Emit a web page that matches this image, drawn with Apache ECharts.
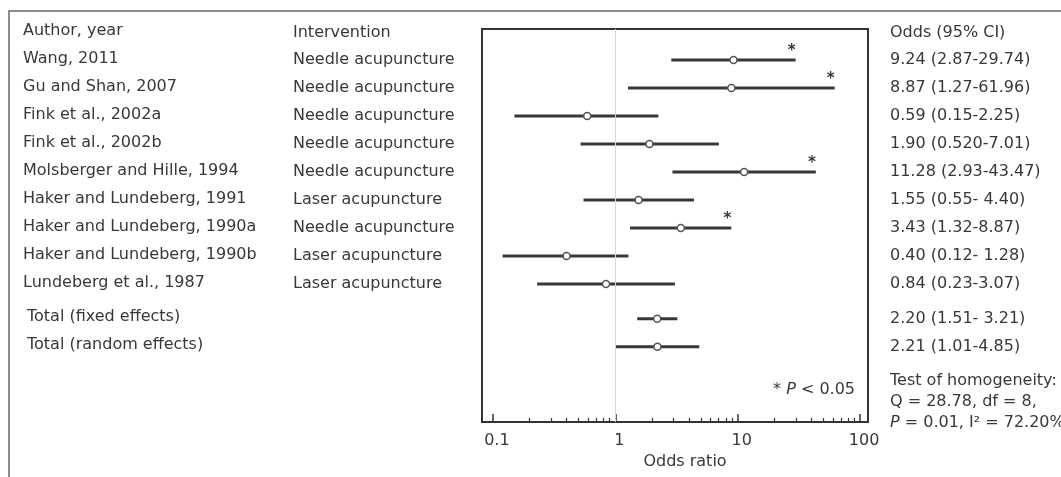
<!DOCTYPE html>
<html>
<head>
<meta charset="utf-8">
<script src="https://cdn.jsdelivr.net/npm/echarts@6/dist/echarts.min.js"></script>
<style>
  html, body { margin: 0; background: #fff; }
  #chart { width: 1061px; height: 477px; }
</style>
</head>
<body>
<div id="chart"></div>
<script>
// forest plot: acupuncture trials, odds ratio on a log axis
const authors = [
  "Wang, 2011", "Gu and Shan, 2007", "Fink et al., 2002a", "Fink et al., 2002b",
  "Molsberger and Hille, 1994", "Haker and Lundeberg, 1991", "Haker and Lundeberg, 1990a",
  "Haker and Lundeberg, 1990b", "Lundeberg et al., 1987"
];
const interventions = [
  "Needle acupuncture", "Needle acupuncture", "Needle acupuncture", "Needle acupuncture",
  "Needle acupuncture", "Laser acupuncture", "Needle acupuncture",
  "Laser acupuncture", "Laser acupuncture"
];
const oddsRatio = [9.24, 8.87, 0.59, 1.90, 11.28, 1.55, 3.43, 0.40, 0.84];
const ciLow = [2.87, 1.27, 0.15, 0.520, 2.93, 0.55, 1.32, 0.12, 0.23];
const ciHigh = [29.74, 61.96, 2.25, 7.01, 43.47, 4.40, 8.87, 1.28, 3.07];
const significant = [true, true, false, false, true, false, true, false, false];
const oddsText = [
  "9.24 (2.87-29.74)", "8.87 (1.27-61.96)", "0.59 (0.15-2.25)", "1.90 (0.520-7.01)",
  "11.28 (2.93-43.47)", "1.55 (0.55- 4.40)", "3.43 (1.32-8.87)", "0.40 (0.12- 1.28)",
  "0.84 (0.23-3.07)"
];

const totalLabels = ["Total (fixed effects)", "Total (random effects)"];
const totalOR = [2.20, 2.21];
const totalLow = [1.51, 1.01];
const totalHigh = [3.21, 4.85];
const totalText = ["2.20 (1.51- 3.21)", "2.21 (1.01-4.85)"];

const xMajorTicks = [0.1, 1, 10, 100];
const xMinorTicks = [
  0.2, 0.3, 0.4, 0.5, 0.6, 0.7, 0.8, 0.9,
  2, 3, 4, 5, 6, 7, 8, 9,
  20, 30, 40, 50, 60, 70, 80, 90
];

// row layout on the y value axis (inverse): studies 0..8, totals after a small gap
const headerRow = -0.97;
const studyRows = authors.map((_, i) => i);
const totalRows = [9.24, 10.24];
const labelRows = [headerRow, ...studyRows, ...totalRows];

const INK = "#383838";
const FONT = "DejaVu Sans";

function rowText(v, header, studies, totals) {
  if (Math.abs(v - headerRow) < 0.01) return header;
  const t = totalRows.findIndex((r) => Math.abs(r - v) < 0.01);
  if (t >= 0) return totals ? totals[t] : "";
  const i = Math.round(v);
  return studies[i] != null ? studies[i] : "";
}

const intervalData = [
  ...authors.map((_, i) => [ciLow[i], ciHigh[i], oddsRatio[i], studyRows[i], significant[i] ? 1 : 0]),
  ...totalLabels.map((_, j) => [totalLow[j], totalHigh[j], totalOR[j], totalRows[j], 0])
];

function renderInterval(params, api) {
  const y = api.value(3);
  const lo = api.coord([api.value(0), y]);
  const hi = api.coord([api.value(1), y]);
  const mid = api.coord([api.value(2), y]);
  const children = [
    { type: "line", shape: { x1: lo[0], y1: lo[1], x2: hi[0], y2: hi[1] },
      style: { stroke: INK, lineWidth: 3 } },
    { type: "circle", shape: { cx: mid[0], cy: mid[1], r: 3.5 },
      style: { fill: "#fff", stroke: "#555", lineWidth: 1.5 } }
  ];
  if (api.value(4)) {
    children.push({
      type: "text", x: hi[0] - 4, y: hi[1] - 9,
      style: { text: "*", fontFamily: FONT, fontSize: 15, fontWeight: "bold", fill: INK,
               align: "center", verticalAlign: "middle" }
    });
  }
  return { type: "group", children };
}

const yBase = {
  type: "value", inverse: true, min: -1.107, max: 12.93, gridIndex: 0,
  axisLine: { show: false }, axisTick: { show: false }, splitLine: { show: false }
};
const labelStyle = { fontFamily: FONT, fontSize: 16, color: INK, padding: [0, 0, 3, 0] };

const chart = echarts.init(document.getElementById("chart"));
chart.setOption({
  animation: false,
  backgroundColor: "#fff",
  grid: {
    left: 482, top: 29, right: 193, bottom: 55,
    show: true, borderColor: "#333", borderWidth: 2, backgroundColor: "transparent"
  },
  xAxis: [
    {
      type: "log", logBase: 10, min: 0.0815, max: 116, gridIndex: 0, position: "bottom",
      axisLine: { show: true, onZero: false, lineStyle: { color: "#333", width: 2 } },
      axisTick: { show: true, inside: true, length: 8, customValues: xMajorTicks,
                  lineStyle: { color: "#333", width: 1.5 } },
      axisLabel: { customValues: xMajorTicks, margin: 11, fontFamily: FONT, fontSize: 16,
                   color: INK, padding: [0, 0, 0, 8], formatter: (v) => String(v) },
      splitLine: { show: false },
      name: "Odds ratio", nameLocation: "middle", nameGap: 31,
      nameTextStyle: { fontFamily: FONT, fontSize: 16, color: INK, padding: [0, 0, 0, 20] }
    },
    {
      type: "log", logBase: 10, min: 0.0815, max: 116, gridIndex: 0, position: "bottom",
      axisLine: { show: false, onZero: false },
      axisTick: { show: true, inside: true, length: 4, customValues: xMinorTicks,
                  lineStyle: { color: "#333", width: 1.2 } },
      axisLabel: { show: false },
      splitLine: { show: false }
    }
  ],
  yAxis: [
    Object.assign({}, yBase, {
      position: "left",
      axisLabel: Object.assign({}, labelStyle, {
        customValues: labelRows, align: "left", margin: 459,
        formatter: (v) => {
          const s = rowText(v, "Author, year", authors, totalLabels);
          return totalRows.some((r) => Math.abs(r - v) < 0.01) ? "{t|" + s + "}" : s;
        },
        rich: { t: { fontFamily: FONT, fontSize: 16, color: INK, padding: [0, 0, 0, 4] } }
      })
    }),
    Object.assign({}, yBase, {
      position: "left",
      axisLabel: Object.assign({}, labelStyle, {
        customValues: labelRows, align: "left", margin: 189,
        formatter: (v) => rowText(v, "Intervention", interventions, null)
      })
    }),
    Object.assign({}, yBase, {
      position: "right",
      axisLabel: Object.assign({}, labelStyle, {
        customValues: labelRows, align: "left", margin: 22,
        formatter: (v) => rowText(v, "Odds (95% CI)", oddsText, totalText)
      })
    })
  ],
  series: [
    {
      type: "custom",
      xAxisIndex: 0, yAxisIndex: 0,
      renderItem: renderInterval,
      encode: { x: [0, 1, 2], y: 3 },
      data: intervalData,
      clip: false,
      markLine: {
        silent: true, symbol: "none", label: { show: false },
        lineStyle: { color: "#d6d6d6", width: 1, type: "solid" },
        data: [{ xAxis: 1 }]
      }
    }
  ],
  graphic: [
    {
      type: "polyline", silent: true,
      shape: { points: [[9, 477], [9, 11], [1061, 11]] },
      style: { fill: null, stroke: "#666", lineWidth: 1.5 }
    },
    {
      type: "text", x: 855, y: 390,
      style: {
        text: "{a|* }{i|P}{a| < 0.05}",
        align: "right", verticalAlign: "middle",
        rich: {
          a: { fontFamily: FONT, fontSize: 16, fill: INK },
          i: { fontFamily: FONT, fontSize: 16, fill: INK, fontStyle: "italic" }
        }
      }
    },
    {
      type: "text", x: 890, y: 370,
      style: {
        text: "{a|Test of homogeneity:}\n{a|Q = 28.78, df = 8,}\n{i|P}{a| = 0.01, I² = 72.20%}",
        align: "left", verticalAlign: "top",
        rich: {
          a: { fontFamily: FONT, fontSize: 16, fill: INK, lineHeight: 21 },
          i: { fontFamily: FONT, fontSize: 16, fill: INK, fontStyle: "italic", lineHeight: 21 }
        }
      }
    }
  ]
});
</script>
</body>
</html>
